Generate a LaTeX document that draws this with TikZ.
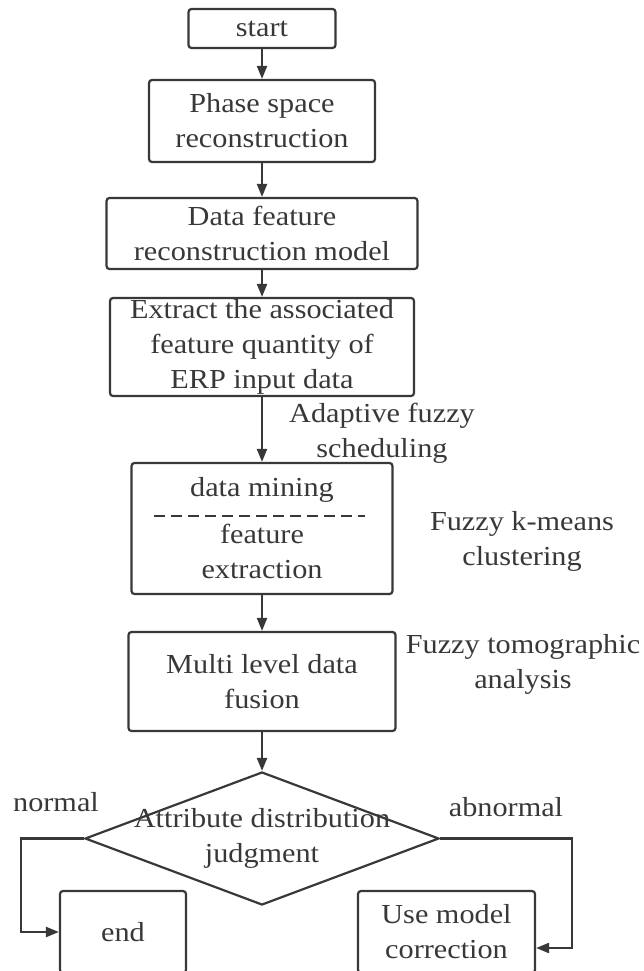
\documentclass[tikz,border=0pt]{standalone}
\usepackage{fontspec}
\setmainfont{Liberation Serif}[FakeStretch=1.1]
\usetikzlibrary{arrows.meta,shapes.geometric,calc}
\definecolor{ink}{HTML}{383838}
\tikzset{
	box/.style={draw=ink,line width=2.2pt,rounded corners=3pt,align=center,inner sep=0pt},
	flow/.style={draw=ink,line width=2.2pt,-{Triangle[length=13pt,width=10pt]}},
	note/.style={align=center,inner sep=0pt},
}

\begin{document}
\begin{tikzpicture}[x=1pt,y=-1pt,text=ink,font=\fontsize{27.5}{35}\selectfont]
			\useasboundingbox (0,0) rectangle (643,971);
			\clip (0,0) rectangle (643,971);
			\node[box,minimum width=147pt,minimum height=39pt] at (262,28.5) (st) {start};
			\node[box,minimum width=226pt,minimum height=82pt] at (262,121) (ps) {Phase space\\reconstruction};
			\node[box,minimum width=311pt,minimum height=71pt] at (262,233.5) (df) {Data feature\\reconstruction model};
			\node[box,minimum width=304pt,minimum height=98pt] at (262,347) (ex) {Extract the associated\\feature quantity of\\ERP input data};
			\node[box,minimum width=261pt,minimum height=131pt] at (262,528.5) (dm) {data mining\\[12pt]feature\\extraction};
			\node[box,minimum width=267pt,minimum height=99pt] at (262,681.5) (ml) {Multi level data\\fusion};
			\node[draw=ink,line width=2.2pt,diamond,inner sep=0pt,minimum width=354pt,minimum height=133pt] at (262,838.5) (dec) {};
			\node[note] at (dec.center) (dect) {Attribute distribution\\judgment};
			\node[box,minimum width=126pt,minimum height=82pt] at (123,932) (end) {end};
			\node[box,minimum width=177pt,minimum height=82pt] at (446.5,932) (umc) {Use model\\correction};
			% side notes
			\node[note] at (382,433) (af) {Adaptive fuzzy\\scheduling};
			\node[note] at (522,541.5) (km) {Fuzzy k-means\\clustering};
			\node[note] at (523,664.5) (ft) {Fuzzy tomographic\\analysis};
			\node[note] at (56,802) (nm) {normal};
			\node[note] at (506,807) (ab) {abnormal};
			% divider
			\coordinate (d1) at ($(dm.west)+(24,-12.5)$);
			\coordinate (d2) at ($(dm.east)+(-29,-12.5)$);
			\draw[ink,line width=2pt,dash pattern=on 11pt off 6pt] (d1) -- (d2);
			\draw[flow] (st) -- (ps);
			\draw[flow] (ps) -- (df);
			\draw[flow] (df) -- (ex);
			\draw[flow] (ex) -- (dm);
			\draw[flow] (dm) -- (ml);
			\draw[flow] (ml) -- (dec);
			\coordinate (cl) at (21,932);
			\coordinate (cr) at (572,948);
			\draw[flow] (dec.west) -| (cl) -- (end.west);
			\draw[flow] (dec.east) -| (cr) -- (umc.east |- cr);
\end{tikzpicture}
\end{document}
